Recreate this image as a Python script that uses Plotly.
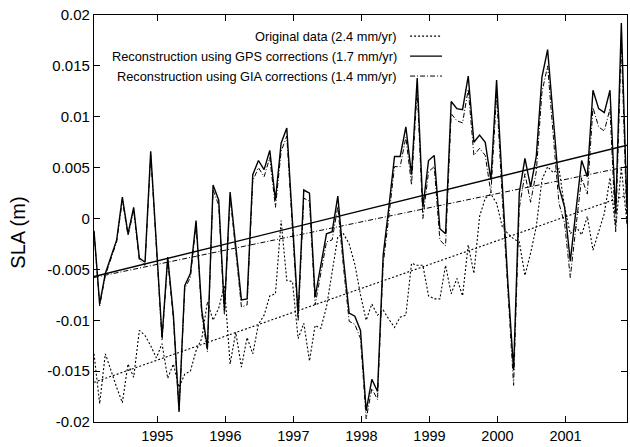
import numpy as np
import plotly.graph_objects as go

# ---- data ----
start_year = 1994.07
n_months = 95

original = [-0.0133, -0.0182, -0.0133, -0.0150, -0.0166, -0.0181, -0.0143, -0.0156, -0.0110, -0.0115,
            -0.0125, -0.0137, -0.0123, -0.0157, -0.0143, -0.0166, -0.0153, -0.0150, -0.0130, -0.0118,
            -0.0082, -0.0100, -0.0088, -0.0066, -0.0143, -0.0112, -0.0146, -0.0117, -0.0133, -0.0104,
            -0.0095, -0.0076, -0.0074, -0.0002, -0.0061, -0.0062, -0.0118, -0.0103, -0.0140, -0.0105,
            -0.0108, -0.0087, -0.0051, -0.0018, -0.0015, -0.0025, -0.0045, -0.0075, -0.0100, -0.0084,
            -0.0095, -0.0090, -0.0099, -0.0107, -0.0097, -0.0095, -0.0044, -0.0046, -0.0046, -0.0076,
            -0.0079, -0.0079, -0.0046, -0.0074, -0.0059, -0.0076, -0.0026, -0.0054, 0.0002, 0.0020,
            0.0024, 0.0015, -0.0008, -0.0015, -0.0020, -0.0023, -0.0056, -0.0034, -0.0008, 0.0038,
            0.0051, 0.0045, 0.0049, 0.0011, -0.0015, -0.0008, -0.0016, 0.0002, -0.0031, -0.0012,
            0.0005, 0.0040, -0.0010, 0.0050, -0.0005]

gps = [-0.0012, -0.0084, -0.0054, -0.0038, -0.0021, 0.0021, -0.0015, 0.0011, -0.0039, -0.0043,
       0.0066, -0.0025, -0.0117, -0.0038, -0.0095, -0.0189, -0.0066, -0.0054, -0.0002, -0.0090,
       -0.0127, 0.0033, 0.0018, -0.0090, 0.0026, -0.0027, -0.0080, -0.0079, 0.0043, 0.0057,
       0.0048, 0.0067, 0.0018, 0.0074, 0.0089, -0.0003, -0.0094, 0.0028, 0.0025, -0.0077,
       -0.0044, -0.0015, -0.0013, 0.0022, -0.0040, -0.0093, -0.0096, -0.0110, -0.0189, -0.0158,
       -0.0170, -0.0036, 0.0011, 0.0061, 0.0061, 0.0090, 0.0043, 0.0138, 0.0011, 0.0057,
       0.0062, -0.0010, -0.0015, 0.0115, 0.0108, 0.0107, 0.0140, 0.0075, 0.0082, 0.0075,
       0.0038, 0.0136, 0.0034, -0.0064, -0.0149, 0.0025, 0.0059, 0.0031, 0.0061, 0.0139,
       0.0166, 0.0097, 0.0031, 0.0011, -0.0042, 0.0008, 0.0057, 0.0041, 0.0126, 0.0108,
       0.0104, 0.0126, 0.0005, 0.0192, 0.0010]

gia = [-0.0013, -0.0086, -0.0056, -0.0040, -0.0023, 0.0018, -0.0017, 0.0008, -0.0041, -0.0046,
       0.0062, -0.0028, -0.0120, -0.0041, -0.0098, -0.0190, -0.0069, -0.0058, -0.0006, -0.0094,
       -0.0131, 0.0028, 0.0013, -0.0095, 0.0021, -0.0032, -0.0087, -0.0085, 0.0037, 0.0050,
       0.0041, 0.0060, 0.0011, 0.0066, 0.0081, -0.0010, -0.0101, 0.0020, 0.0017, -0.0085,
       -0.0052, -0.0023, -0.0021, 0.0012, -0.0048, -0.0101, -0.0104, -0.0118, -0.0197, -0.0167,
       -0.0178, -0.0045, 0.0002, 0.0051, 0.0051, 0.0080, 0.0033, 0.0127, 0.0000, 0.0046,
       0.0051, -0.0021, -0.0027, 0.0103, 0.0096, 0.0094, 0.0127, 0.0062, 0.0069, 0.0062,
       0.0025, 0.0122, 0.0020, -0.0078, -0.0164, 0.0010, 0.0044, 0.0016, 0.0046, 0.0124,
       0.0150, 0.0081, 0.0015, -0.0005, -0.0058, -0.0008, 0.0040, 0.0024, 0.0109, 0.0090,
       0.0086, 0.0108, -0.0013, 0.0174, -0.0008]

# trend line end values (start, end)
trend_original = [-0.0161, 0.0023]
trend_gps = [-0.0057, 0.0072]
trend_gia = [-0.0058, 0.0051]

legend_labels = ["Original data (2.4 mm/yr)",
                 "Reconstruction using GPS corrections (1.7 mm/yr)",
                 "Reconstruction using GIA corrections (1.4 mm/yr)"]

x_ticks = [1995, 1996, 1997, 1998, 1999, 2000, 2001]
y_ticks = [0.02, 0.015, 0.01, 0.005, 0, -0.005, -0.01, -0.015, -0.02]
y_ticktext = ["0.02", "0.015", "0.01", "0.005", "0", "-0.005", "-0.01", "-0.015", "-0.02"]

t = start_year + np.arange(n_months) / 12.0
t_ends = [t[0], t[-1]]

FONT = "Liberation Sans, Arial"
DOT = "2px,2px"
DASHDOT = "5px,2px,1px,2px"

fig = go.Figure()
series = [
    (original, trend_original, dict(color="black", width=1.1, dash=DOT)),
    (gps, trend_gps, dict(color="black", width=1.4, dash="solid")),
    (gia, trend_gia, dict(color="black", width=1.0, dash=DASHDOT)),
]
for vals, tr, ln in series:
    fig.add_trace(go.Scatter(x=t, y=vals, mode="lines", line=ln, showlegend=False,
                             hoverinfo="skip"))
    fig.add_trace(go.Scatter(x=t_ends, y=tr, mode="lines", line=ln, showlegend=False,
                             hoverinfo="skip"))

# custom legend (text then line sample, as in the reference)
row_y = [0.948, 0.899, 0.850]
styles = [s[2] for s in series]
for lab, yy, ln in zip(legend_labels, row_y, styles):
    fig.add_annotation(x=0.572, y=yy, xref="paper", yref="paper", text=lab,
                       showarrow=False, xanchor="right", yanchor="middle",
                       font=dict(family=FONT, size=12.8, color="black"))
    fig.add_shape(type="line", xref="paper", yref="paper", x0=0.593, x1=0.653,
                  y0=yy, y1=yy, line=ln)

# y-axis title
fig.add_annotation(x=-0.142, y=0.466, xref="paper", yref="paper", text="SLA (m)",
                   showarrow=False, textangle=-90, xanchor="center", yanchor="middle",
                   font=dict(family=FONT, size=20, color="black"))

axis_common = dict(showline=True, linecolor="black", linewidth=1.2, mirror="ticks",
                   ticks="inside", ticklen=6, tickwidth=1, tickcolor="black",
                   showgrid=False, zeroline=False)

fig.update_xaxes(range=[start_year, t[-1]], tickvals=x_ticks,
                 ticktext=[str(v) for v in x_ticks],
                 tickfont=dict(family=FONT, size=14.5, color="black"), **axis_common)
fig.update_yaxes(range=[-0.02, 0.02], tickvals=y_ticks, ticktext=y_ticktext,
                 tickfont=dict(family=FONT, size=15, color="black"), **axis_common)

fig.update_layout(width=630, height=447, margin=dict(l=94, r=3, t=15, b=25),
                  paper_bgcolor="white", plot_bgcolor="white", showlegend=False)

fig.write_html("out.html")
